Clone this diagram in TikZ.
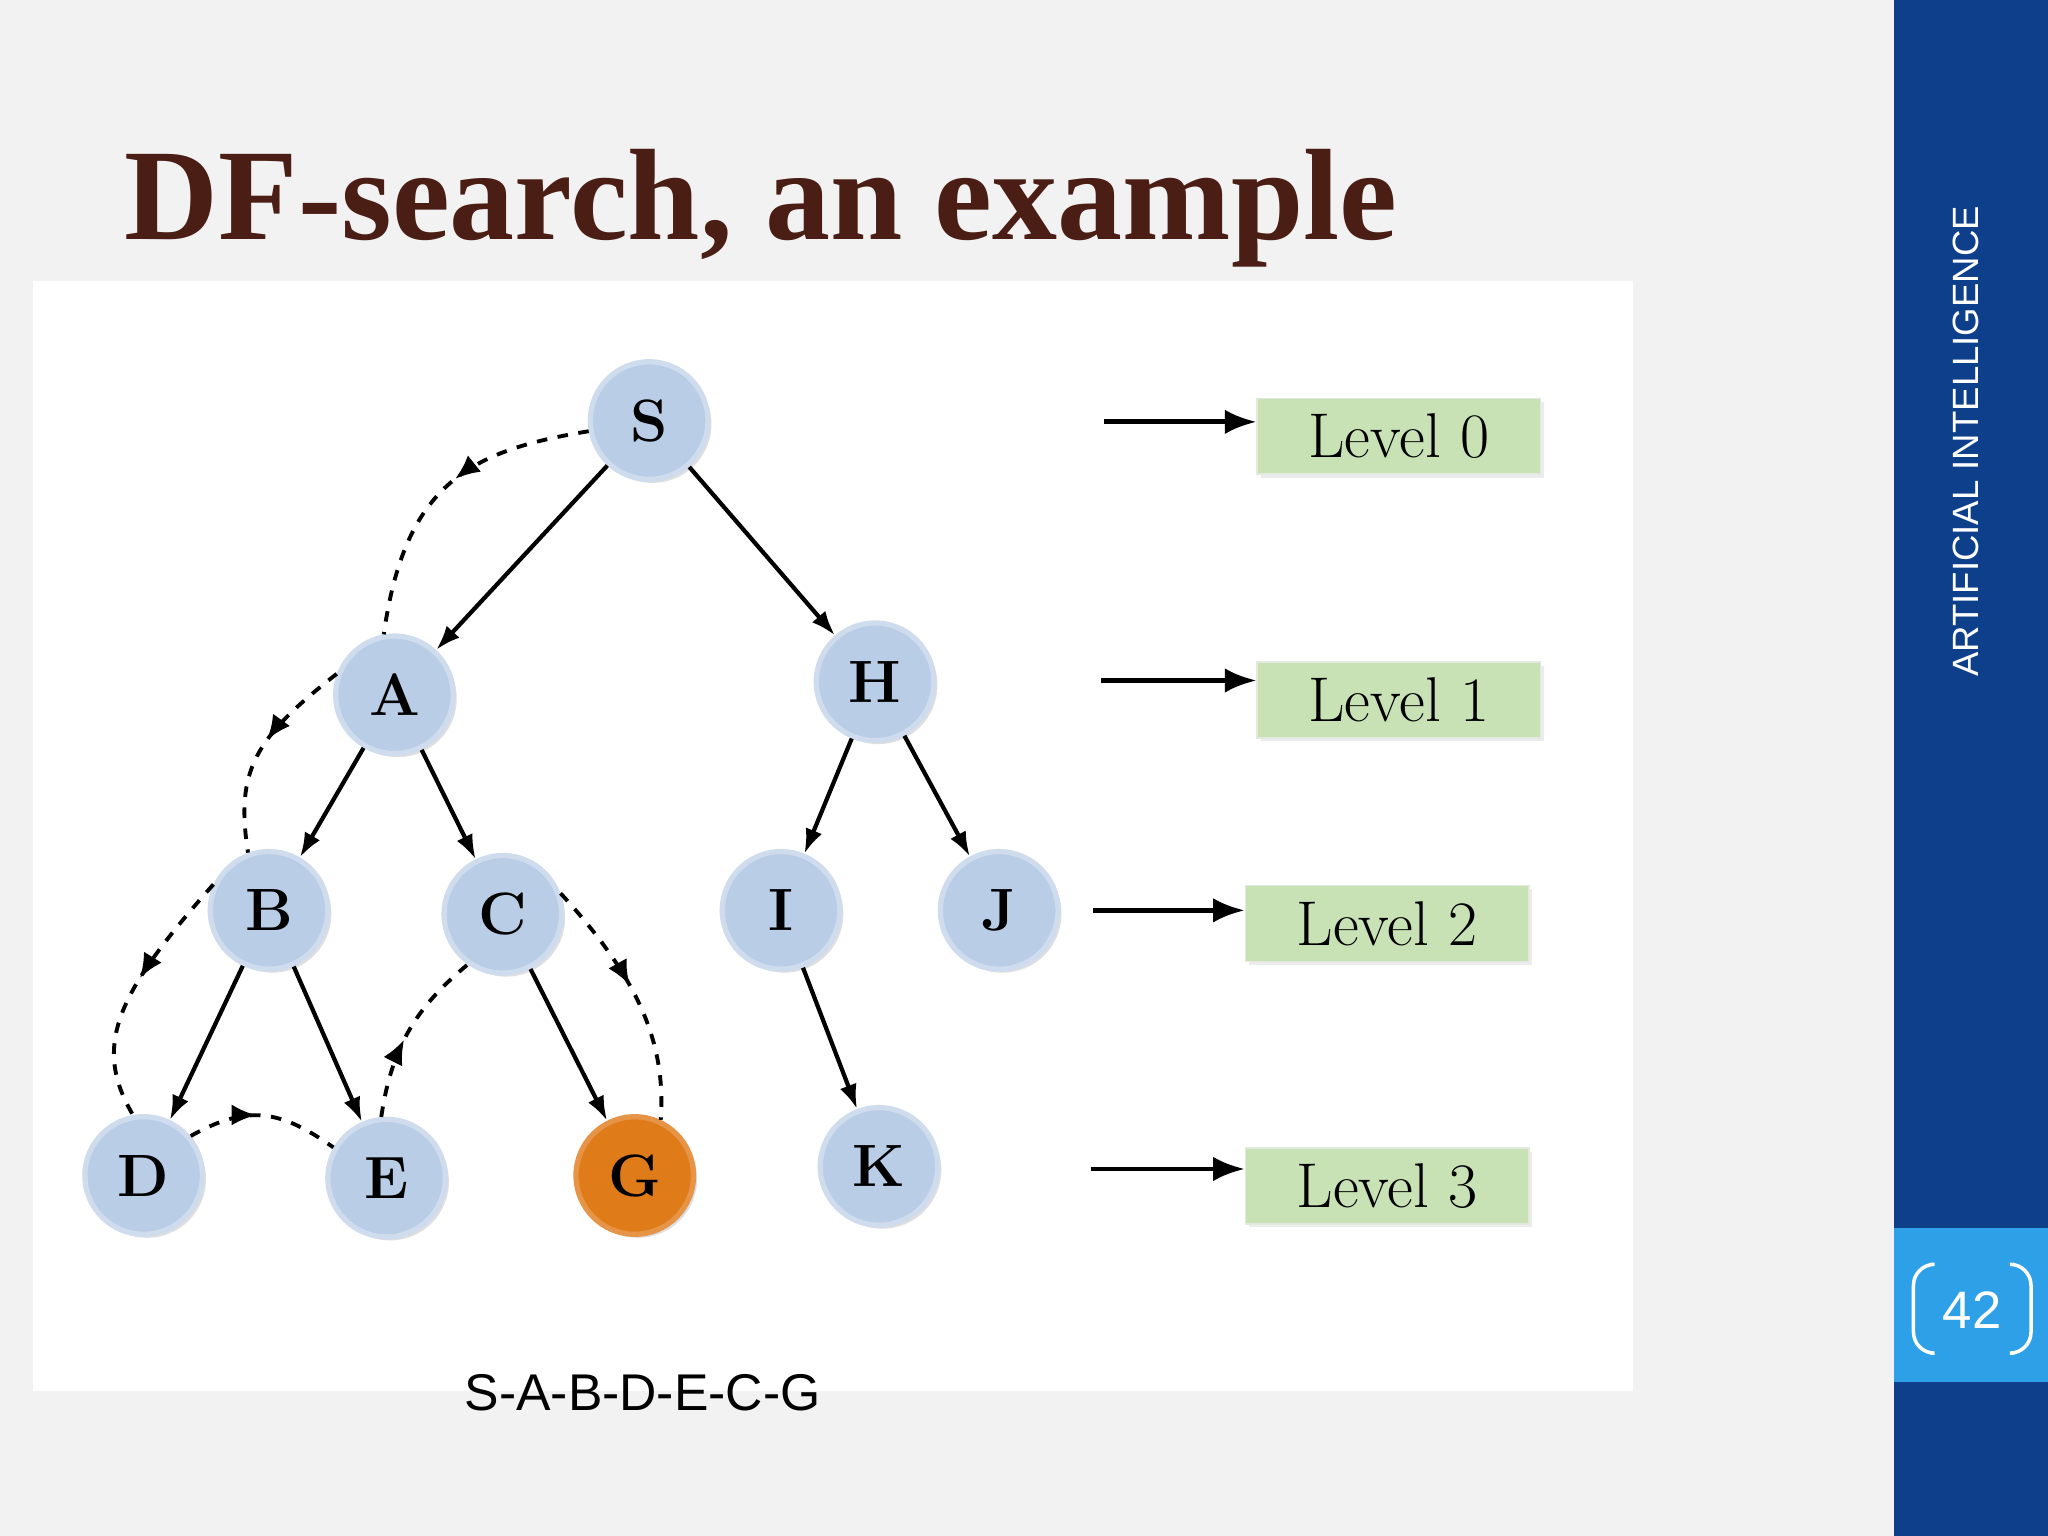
\documentclass[tikz,border=0pt]{standalone}
\usepackage{fontspec}
\newfontfamily\titlefont{Liberation Serif}
\newfontfamily\arial{Liberation Sans}
\usetikzlibrary{arrows.meta,decorations.markings,shadows}
\definecolor{nodeblue}{HTML}{B9CDE6}
\definecolor{gorange}{HTML}{E07B1A}
\definecolor{barblue}{HTML}{0D3F8A}
\definecolor{sqblue}{HTML}{2DA0E8}
\definecolor{lvgreen}{HTML}{C8E2B6}
\definecolor{titlebrown}{HTML}{4A1E14}
\tikzset{
 tn/.style={circle,minimum size=90*0.01306cm,inner sep=0pt,fill=nodeblue,draw=nodeblue!70!white,line width=1.5pt,font=\fontsize{17}{17}\selectfont\bfseries,drop shadow={opacity=0.25,shadow xshift=1pt,shadow yshift=-1pt}},
 te/.style={-{Latex[length=7pt,width=5pt]},line width=1.2pt},
 td/.style={dashed,line width=1.1pt,postaction={decorate},decoration={markings,mark=at position 0.45 with {\arrow{Latex[length=7pt,width=6pt]}}}},
 lv/.style={rectangle,fill=lvgreen,draw=lvgreen!80!black!30!white,minimum width=217*0.01306cm,minimum height=58*0.01306cm,font=\fontsize{18}{18}\selectfont,drop shadow={opacity=0.15,shadow xshift=1pt,shadow yshift=-1pt}},
 la/.style={-{Latex[length=9pt,width=7pt]},line width=1.4pt}
}
\begin{document}
\begin{tikzpicture}[x=0.01306cm,y=-0.01306cm]
\useasboundingbox (0,0) rectangle (1568,1176);
\fill[gray!10] (0,0) rectangle (1568,1176);
\fill[white] (25,215) rectangle (1250,1065);
\fill[barblue] (1450,0) rectangle (1568,1176);
\fill[sqblue] (1450,940) rectangle (1568,1058);
\node[white,rotate=90,font=\arial\fontsize{10.4}{10.4}\selectfont] (ai) at (1505,338) {ARTIFICIAL INTELLIGENCE};
\node[white,font=\arial\fontsize{15}{15}\selectfont] (pg) at (1510,1003) {42};
\draw[white,line width=1pt,rounded corners=6pt] (1478,968) -- (1465,968) -- (1465,1036) -- (1478,1036);
\draw[white,line width=1pt,rounded corners=6pt] (1542,968) -- (1555,968) -- (1555,1036) -- (1542,1036);
\node[anchor=base west,text=titlebrown,font=\titlefont\fontsize{37}{37}\selectfont\bfseries,inner sep=0pt] (title) at (95,183) {DF-search, an example};
% nodes
\node[tn] (S) at (497,322) {S};
\node[tn] (A) at (302,532) {A};
\node[tn] (H) at (670,522) {H};
\node[tn] (B) at (206,697) {B};
\node[tn] (C) at (385,700) {C};
\node[tn] (I) at (598,697) {I};
\node[tn] (J) at (765,697) {J};
\node[tn] (D) at (110,900) {D};
\node[tn] (E) at (296,902) {E};
\node[tn,fill=gorange,draw=gorange!80!white] (G) at (486,900) {G};
\node[tn] (K) at (673,893) {K};
\foreach \a/\b in {S/A,S/H,A/B,A/C,H/I,H/J,B/D,B/E,C/G,I/K}
  \draw[te] (\a) -- (\b);
% dashed traversal
\draw[td] (S.190) .. controls (360,345) and (310,370) .. (A.100);
\draw[td] (A.160) .. controls (195,565) and (180,590) .. (B.110);
\draw[td] (B.155) .. controls (90,760) and (70,800) .. (D.100);
\draw[td] (D.40) .. controls (190,845) and (215,850) .. (E.150);
\draw[td] (E.95) .. controls (300,800) and (320,770) .. (C.235);
\draw[td] (C.20) .. controls (490,750) and (510,800) .. (G.65);
% levels
\node[lv] (L0) at (1071,334) {Level \oldstylenums{0}};
\node[lv] (L1) at (1071,536) {Level \oldstylenums{1}};
\node[lv] (L2) at (1062,707) {Level \oldstylenums{2}};
\node[lv] (L3) at (1062,908) {Level \oldstylenums{3}};
\coordinate (a0) at (845,323); \coordinate (a1) at (843,521);
\coordinate (a2) at (837,697); \coordinate (a3) at (835,895);
\draw[la] (a0) -- (L0.west|-a0);
\draw[la] (a1) -- (L1.west|-a1);
\draw[la] (a2) -- (L2.west|-a2);
\draw[la] (a3) -- (L3.west|-a3);
\node[font=\arial\fontsize{14.7}{14.7}\selectfont] (path) at (492,1066) {S-A-B-D-E-C-G};
\end{tikzpicture}
\end{document}
